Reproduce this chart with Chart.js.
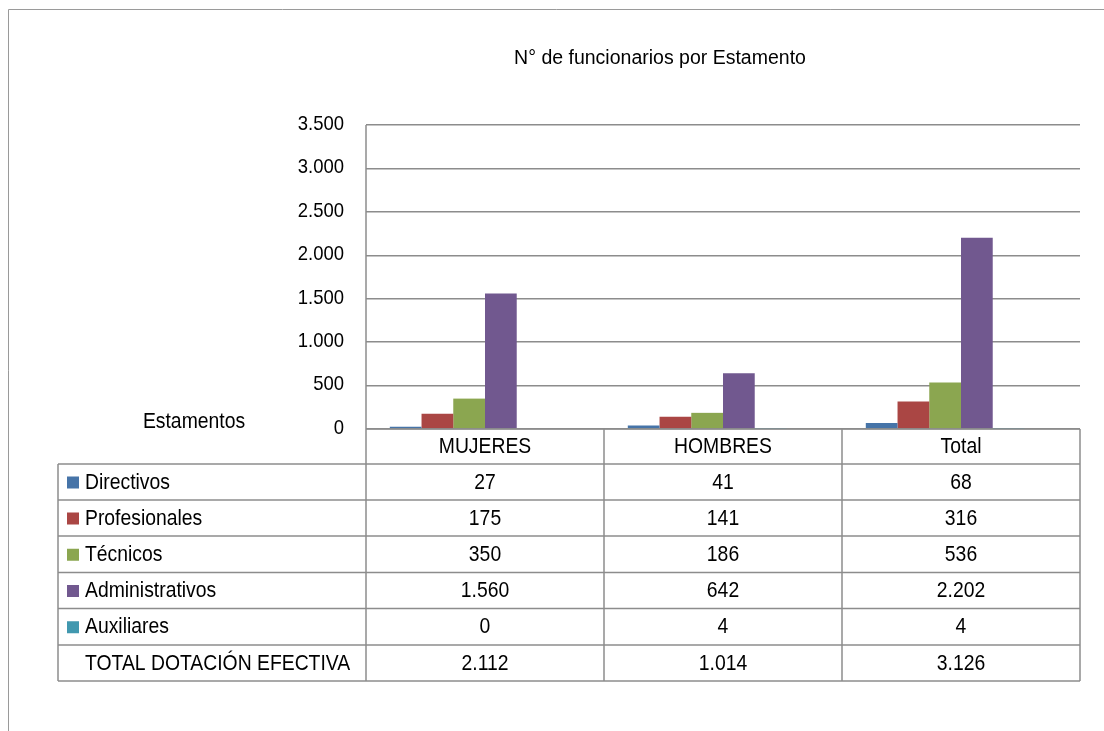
<!DOCTYPE html>
<html lang="es">
<head>
<meta charset="UTF-8">
<title>N° de funcionarios por Estamento</title>
<script src="https://cdn.jsdelivr.net/npm/chart.js"></script>
<style>
    html, body { margin: 0; padding: 0; background: #ffffff; }
    .wrap { width: 1104px; height: 731px; position: relative; }
</style>
</head>
<body>
<div class="wrap"><canvas id="grafico" width="1104" height="731"></canvas></div>
<script>
// datos
const categorias = ['MUJERES', 'HOMBRES', 'Total'];
const directivos = [27, 41, 68];
const profesionales = [175, 141, 316];
const tecnicos = [350, 186, 536];
const administrativos = [1560, 642, 2202];
const auxiliares = [0, 4, 4];
const totalDotacion = [2112, 1014, 3126];
const ejeY = { min: 0, max: 3500, paso: 500 };

const FUENTE = '"Liberation Sans", Arial, sans-serif';
const GRIS = '#8c8c8c';

// separador de miles con punto
function fmt(n) {
    return String(n).replace(/\B(?=(\d{3})+(?!\d))/g, '.');
}

// texto algo angosto, como el original (Arial comprimida)
function texto(ctx, str, x, y, align, size, sx) {
    ctx.save();
    ctx.translate(x, y);
    ctx.scale(sx, 1);
    ctx.font = size + 'px ' + FUENTE;
    ctx.textAlign = align;
    ctx.textBaseline = 'middle';
    ctx.fillText(str, 0, 0);
    ctx.restore();
}

const series = [
    { label: 'Directivos', data: directivos, color: '#4674a8' },
    { label: 'Profesionales', data: profesionales, color: '#aa4644' },
    { label: 'Técnicos', data: tecnicos, color: '#8ba650' },
    { label: 'Administrativos', data: administrativos, color: '#71588f' },
    { label: 'Auxiliares', data: auxiliares, color: '#4198af' },
    { label: 'TOTAL DOTACIÓN EFECTIVA', data: totalDotacion, color: null }
];

// marco, titulo, etiquetas del eje y tabla de datos
const tablaPlugin = {
    id: 'tablaDatos',
    beforeDraw(chart) {
        const ctx = chart.ctx;
        ctx.save();
        ctx.fillStyle = '#ffffff';
        ctx.fillRect(0, 0, chart.width, chart.height);
        ctx.strokeStyle = '#9a9a9a';
        ctx.lineWidth = 1;
        ctx.beginPath();
        ctx.moveTo(8.5, chart.height);
        ctx.lineTo(8.5, 9.5);
        ctx.lineTo(chart.width, 9.5);
        ctx.stroke();
        ctx.restore();
    },
    afterDraw(chart) {
        const ctx = chart.ctx;
        const x = chart.scales.x;
        const y = chart.scales.y;
        const area = chart.chartArea;
        const n = categorias.length;
        const anchoCat = (area.right - area.left) / n;
        const tablaIzq = 58;
        const filas = [area.bottom, 464, 500, 536, 572.5, 608.5, 645, 681];

        ctx.save();
        ctx.strokeStyle = GRIS;
        ctx.lineWidth = 1.5;

        // eje vertical izquierdo hasta el fondo de la tabla
        ctx.beginPath();
        ctx.moveTo(area.left, area.top);
        ctx.lineTo(area.left, filas[filas.length - 1]);
        ctx.stroke();

        // lineas horizontales
        filas.forEach((fy, i) => {
            ctx.beginPath();
            ctx.moveTo(i === 0 ? area.left : tablaIzq, fy);
            ctx.lineTo(area.right, fy);
            ctx.stroke();
        });

        // divisiones de columnas
        for (let i = 1; i <= n; i++) {
            const cx = area.left + anchoCat * i;
            ctx.beginPath();
            ctx.moveTo(cx, area.bottom);
            ctx.lineTo(cx, filas[filas.length - 1]);
            ctx.stroke();
        }
        ctx.beginPath();
        ctx.moveTo(tablaIzq, filas[1]);
        ctx.lineTo(tablaIzq, filas[filas.length - 1]);
        ctx.stroke();

        ctx.fillStyle = '#000000';

        // etiquetas del eje Y
        y.ticks.forEach(t => {
            texto(ctx, fmt(t.value), 344, y.getPixelForValue(t.value) - 1, 'right', 21, 0.88);
        });

        // encabezados de categoria
        categorias.forEach((c, i) => {
            texto(ctx, c, x.getPixelForValue(i), (filas[0] + filas[1]) / 2 + 0.5, 'center', 22.5, 0.86);
        });
        texto(ctx, 'Estamentos', 194, 422, 'center', 22.5, 0.86);

        // filas de la tabla
        series.forEach((s, r) => {
            const yc = (filas[r + 1] + filas[r + 2]) / 2 + 0.5;
            if (s.color) {
                ctx.fillStyle = s.color;
                ctx.fillRect(67, yc - 6, 12, 12);
            }
            ctx.fillStyle = '#000000';
            texto(ctx, s.label, 85, yc, 'left', 22.5, 0.86);
            s.data.forEach((v, i) => {
                texto(ctx, fmt(v), x.getPixelForValue(i), yc, 'center', 22.5, 0.86);
            });
        });

        // titulo
        texto(ctx, 'N° de funcionarios por Estamento', 660, 59, 'center', 19.5, 1);
        ctx.restore();
    }
};

const ctx = document.getElementById('grafico').getContext('2d');
new Chart(ctx, {
    type: 'bar',
    data: {
        labels: categorias,
        datasets: series.map(s => ({
            label: s.label,
            data: s.data,
            backgroundColor: s.color || 'rgba(0,0,0,0)',
            borderWidth: 0
        }))
    },
    options: {
        responsive: false,
        animation: false,
        events: [],
        layout: { padding: { left: 0, top: 125, right: 24, bottom: 302 } },
        datasets: { bar: { categoryPercentage: 0.8, barPercentage: 1 } },
        plugins: {
            legend: { display: false },
            title: { display: false },
            tooltip: { enabled: false }
        },
        scales: {
            x: {
                display: false
            },
            y: {
                min: ejeY.min,
                max: ejeY.max,
                afterFit(scale) { scale.width = 366; },
                ticks: {
                    stepSize: ejeY.paso,
                    display: false
                },
                grid: {
                    color: GRIS,
                    lineWidth: 1.5,
                    drawTicks: false
                },
                border: { display: false }
            }
        }
    },
    plugins: [tablaPlugin]
});
</script>
</body>
</html>
